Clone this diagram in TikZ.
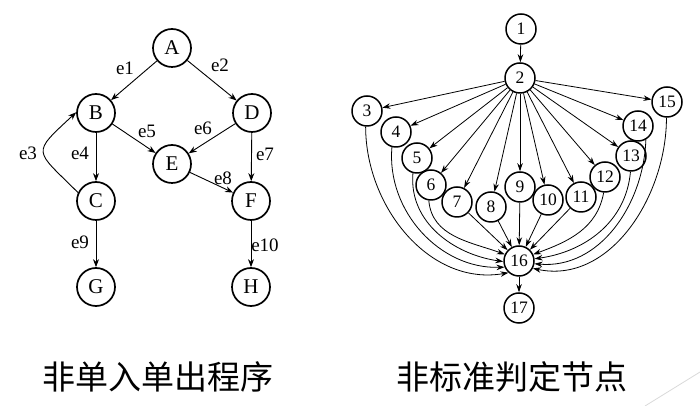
\documentclass[tikz,border=0pt]{standalone}
\usepackage{fontspec}
\setmainfont{Liberation Serif}
\newfontfamily\cjk{Noto Sans CJK SC}
\usetikzlibrary{arrows.meta}
\begin{document}
\begin{tikzpicture}[x=1pt,y=1pt,
  lnode/.style={circle,draw,line width=1.7pt,minimum size=38pt,inner sep=0pt,font=\fontsize{21}{21}\selectfont},
  rnode/.style={circle,draw,line width=1.5pt,minimum size=30pt,inner sep=0pt,font=\fontsize{17.5}{17.5}\selectfont},
  arr/.style={-{Stealth[length=8pt,width=6pt]},line width=0.9pt},
  rarr/.style={-{Stealth[length=8pt,width=5.5pt]},line width=0.8pt},
  elab/.style={inner sep=0pt,font=\fontsize{19}{19}\selectfont},
  captxt/.style={inner sep=0pt,font=\cjk\fontsize{33}{33}\selectfont},
]
\useasboundingbox (0,0) rectangle (700,406);
% ---------- left graph ----------
\node[lnode] (A) at (172,358) {A};
\node[lnode] (B) at (96,293) {B};
\node[lnode] (D) at (252,293) {D};
\node[lnode] (E) at (172,242) {E};
\node[lnode] (C) at (96,205) {C};
\node[lnode] (F) at (251,205) {F};
\node[lnode] (G) at (96,119) {G};
\node[lnode] (H) at (251,119) {H};
\draw[arr] (A) -- (B);
\draw[arr] (A) -- (D);
\draw[arr] (B) -- (E);
\draw[arr] (D) -- (E);
\draw[arr] (B) -- (C);
\draw[arr] (D) -- (F);
\draw[arr] (E) -- (F);
\draw[arr] (C) -- (G);
\draw[arr] (F) -- (H);
\draw[arr] (C.155) to[out=135,in=223,distance=62pt] (B.178);
\node[elab] (le1) at (125,338) {e1};
\node[elab] (le2) at (220,341) {e2};
\node[elab] (le3) at (28,253) {e3};
\node[elab] (le4) at (80,253) {e4};
\node[elab] (le5) at (147,275) {e5};
\node[elab] (le6) at (203,278) {e6};
\node[elab] (le7) at (265,252) {e7};
\node[elab] (le8) at (223,228) {e8};
\node[elab] (le9) at (80,164) {e9};
\node[elab] (le10) at (265,161) {e10};
% ---------- right graph ----------
\node[rnode] (n1) at (521,377) {1};
\node[rnode] (n2) at (520,328) {2};
\node[rnode] (n3) at (367,295) {3};
\node[rnode] (n4) at (396,274) {4};
\node[rnode] (n5) at (417,248) {5};
\node[rnode] (n6) at (431,221) {6};
\node[rnode] (n7) at (457,204) {7};
\node[rnode] (n8) at (491,199) {8};
\node[rnode] (n9) at (520,219) {9};
\node[rnode] (n10) at (548,206) {10};
\node[rnode] (n11) at (581,209) {11};
\node[rnode] (n12) at (605,229) {12};
\node[rnode] (n13) at (631,250) {13};
\node[rnode] (n14) at (638,280) {14};
\node[rnode] (n15) at (667,304) {15};
\node[rnode] (n16) at (519,145) {16};
\node[rnode] (n17) at (519,98) {17};
\draw[rarr] (n1) -- (n2);
\foreach \k in {3,...,15} { \draw[rarr] (n2) -- (n\k); }
\draw[rarr] (n16) -- (n17);
\draw[rarr] (n3.265) to[out=-90,in=190] (n16.228);
\draw[rarr] (n4.255) to[out=-95,in=182] (n16.203);
\draw[rarr] (n5.255) to[out=-95,in=172] (n16.182);
\draw[rarr] (n6.262) to[out=-85,in=160] (n16.155);
\draw[rarr] (n7) -- (n16);
\draw[rarr] (n8) -- (n16);
\draw[rarr] (n9) -- (n16);
\draw[rarr] (n10) -- (n16);
\draw[rarr] (n11) -- (n16);
\draw[rarr] (n12.265) to[out=-100,in=20] (n16.25);
\draw[rarr] (n13.268) to[out=-95,in=8] (n16.8);
\draw[rarr] (n14.300) to[out=-92,in=-5] (n16.-10);
\draw[rarr] (n15.268) to[out=-90,in=-12] (n16.-28);
% ---------- captions ----------
\node[captxt] (cl) at (158,29) {非单入单出程序};
\node[captxt] (cr) at (512,29) {非标准判定节点};
\draw[gray!30,line width=0.8pt] (700,34) -- (645,0);
\end{tikzpicture}
\end{document}
